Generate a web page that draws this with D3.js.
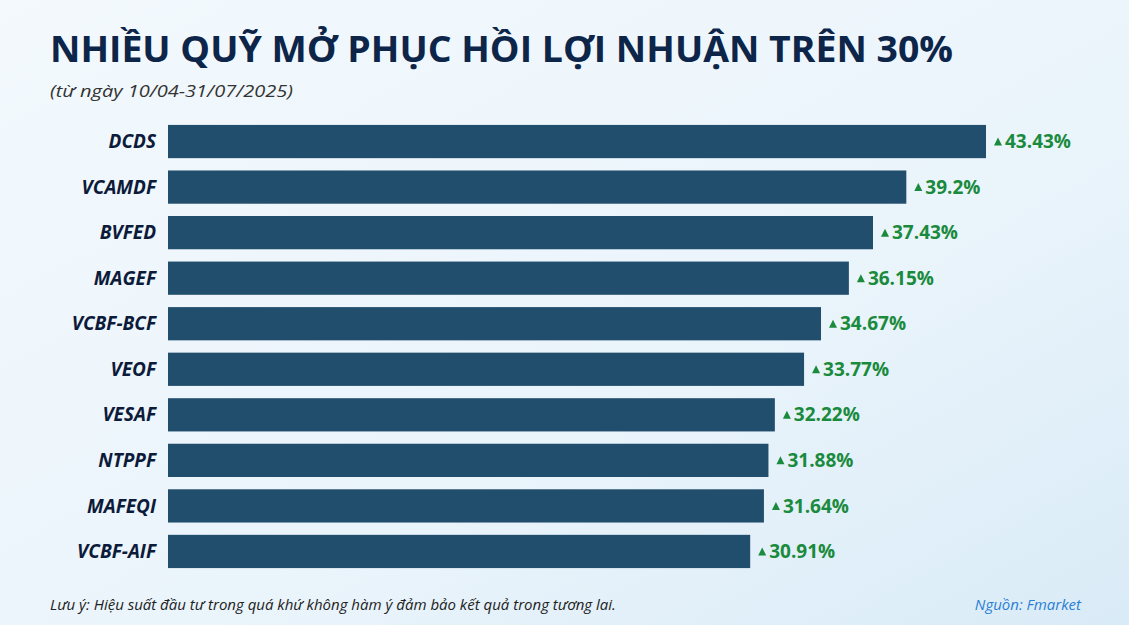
<!DOCTYPE html>
<html><head><meta charset="utf-8">
<script src="https://cdn.jsdelivr.net/npm/d3@7"></script>
<style>body{margin:0;}svg{display:block;}</style>
</head><body>
<svg id="c" width="1129" height="625"></svg>
<script>
const categories = ["DCDS","VCAMDF","BVFED","MAGEF","VCBF-BCF","VEOF","VESAF","NTPPF","MAFEQI","VCBF-AIF"];
const values = [43.43,39.2,37.43,36.15,34.67,33.77,32.22,31.88,31.64,30.91];
const valueLabels = ["43.43%","39.2%","37.43%","36.15%","34.67%","33.77%","32.22%","31.88%","31.64%","30.91%"];

const svg = d3.select("#c");
const defs = svg.append("defs");
const g = defs.append("linearGradient").attr("id","bg").attr("x1",0).attr("y1",0).attr("x2",1).attr("y2",1);
g.append("stop").attr("offset","0%").attr("stop-color","#f3f9fd");
g.append("stop").attr("offset","60%").attr("stop-color","#eaf4fb");
g.append("stop").attr("offset","100%").attr("stop-color","#d9ebf7");
svg.append("rect").attr("width",1129).attr("height",625).attr("fill","url(#bg)");

svg.append("text").attr("x",50).attr("y",62).attr("font-family","Open Sans").attr("font-weight",700)
  .attr("font-size",36).attr("fill","#0d2549").attr("textLength",903).attr("lengthAdjust","spacingAndGlyphs")
  .text("NHIỀU QUỸ MỞ PHỤC HỒI LỢI NHUẬN TRÊN 30%");
svg.append("text").attr("x",50).attr("y",97).attr("font-family","Open Sans").attr("font-style","italic")
  .attr("font-size",17).attr("fill","#333").attr("textLength",243).attr("lengthAdjust","spacingAndGlyphs")
  .text("(từ ngày 10/04-31/07/2025)");

const x = d3.scaleLinear().domain([0,43.43]).range([168,986]);
const y = d3.scaleBand().domain(categories).range([119,574]).paddingInner(0.27).paddingOuter(0.13);

svg.selectAll("rect.bar").data(categories).join("rect").attr("class","bar")
  .attr("x",x(0)).attr("y",d=>y(d)).attr("height",y.bandwidth())
  .attr("width",(d,i)=>x(values[i])-x(0)).attr("fill","#224e6d");

svg.selectAll("text.cat").data(categories).join("text").attr("class","cat")
  .attr("x",156).attr("y",d=>y(d)+y.bandwidth()/2).attr("dy","0.35em").attr("text-anchor","end")
  .attr("font-family","Open Sans").attr("font-weight",700).attr("font-style","italic")
  .attr("font-size",19).attr("fill","#0d1b3a").text(d=>d);

const lab = svg.selectAll("g.lab").data(categories).join("g").attr("class","lab")
  .attr("transform",(d,i)=>`translate(${x(values[i])+8},${y(d)+y.bandwidth()/2})`);
lab.append("path").attr("d","M0,4 L4,-4 L8,4 Z").attr("fill","#1a8a3c");
lab.append("text").attr("x",11).attr("dy","0.35em").attr("font-family","Open Sans").attr("font-weight",700)
  .attr("font-size",19).attr("fill","#1a8a3c").text((d,i)=>valueLabels[i]);

svg.append("text").attr("x",50).attr("y",610).attr("font-family","Open Sans").attr("font-style","italic")
  .attr("font-size",15).attr("fill","#222").text("Lưu ý: Hiệu suất đầu tư trong quá khứ không hàm ý đảm bảo kết quả trong tương lai.");
svg.append("text").attr("x",1081).attr("y",610).attr("text-anchor","end").attr("font-family","Open Sans").attr("font-style","italic")
  .attr("font-size",15).attr("fill","#2a7fd4").text("Nguồn: Fmarket");
</script>
</body></html>
